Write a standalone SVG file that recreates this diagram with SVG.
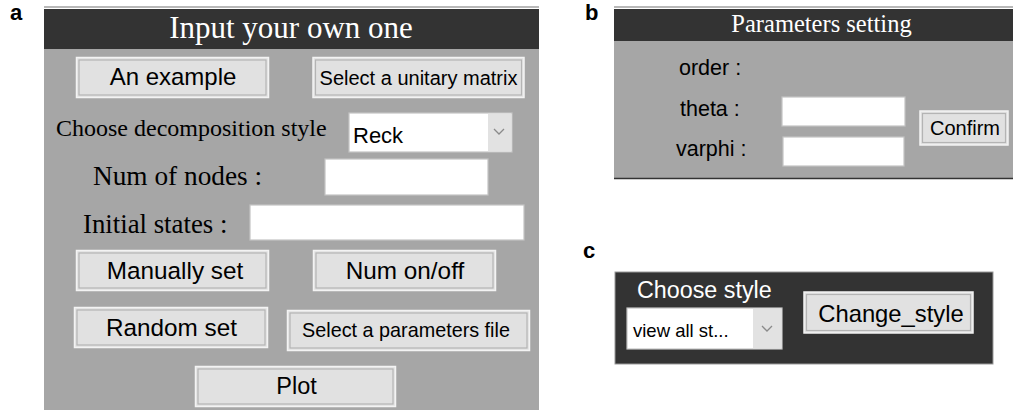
<svg xmlns="http://www.w3.org/2000/svg" width="1014" height="410" viewBox="0 0 1014 410">
  <style>
    .lbl { font-family: "Liberation Sans", Arial, sans-serif; font-weight: bold; font-size: 22px; fill: #000; }
    .panel { fill: #a6a6a6; }
    .head { fill: #333333; }
    .topline { stroke: #b8b8b8; stroke-width: 2; }
    .title { font-family: "Liberation Serif", "Times New Roman", serif; fill: #ffffff; text-anchor: middle; }
    .serif { font-family: "Liberation Serif", "Times New Roman", serif; fill: #000; }
    .sans { font-family: "Liberation Sans", Arial, sans-serif; fill: #000; }
    .btn { fill: #e1e1e1; stroke: #f3f3f3; stroke-width: 1.5; }
    .btnin { fill: none; stroke: #b4b4b4; stroke-width: 1.2; }
    .btntxt { font-family: "Liberation Sans", Arial, sans-serif; fill: #000; text-anchor: middle; }
    .field { fill: #ffffff; stroke: #c4c4c4; stroke-width: 1.2; }
    .drop { fill: #e2e2e2; }
    .chev { fill: none; stroke: #8a8a8a; stroke-width: 1.3; }
  </style>

  <!-- panel labels -->
  <text class="lbl" x="10" y="20">a</text>
  <text class="lbl" x="585" y="20">b</text>
  <text class="lbl" x="583" y="258">c</text>

  <!-- panel a: input form -->
  <g id="panel-a">
    <rect class="panel" x="44" y="9" width="495" height="401"/>
    <line class="topline" x1="44" y1="7" x2="539" y2="7"/>
    <rect class="head" x="44" y="9" width="495" height="40"/>
    <text class="title" x="291" y="38" font-size="31">Input your own one</text>
  </g>

  <g id="btn-example">
    <rect class="btn" x="76.5" y="57.5" width="192" height="40"/>
    <rect class="btnin" x="79" y="60" width="187" height="35"/>
    <text class="btntxt" x="173" y="85" font-size="24">An example</text>
  </g>

  <g id="btn-unitary">
    <rect class="btn" x="313" y="57.5" width="211" height="40"/>
    <rect class="btnin" x="315.5" y="60" width="206" height="35"/>
    <text class="btntxt" x="418.5" y="84.5" font-size="20">Select a unitary matrix</text>
  </g>

  <g id="decomp-style">
    <text class="serif" x="56" y="136" font-size="24">Choose decomposition style</text>
    <rect class="field" x="349" y="113" width="163" height="39"/>
    <rect class="drop" x="488" y="113.6" width="23.4" height="37.8"/>
    <text class="sans" x="353" y="143" font-size="22">Reck</text>
    <polyline class="chev" points="494,129 499,134 504,129"/>
  </g>

  <g id="num-nodes">
    <text class="serif" x="93" y="185" font-size="27.3">Num of nodes :</text>
    <rect class="field" x="325" y="159" width="163" height="36"/>
  </g>

  <g id="initial-states">
    <text class="serif" x="83" y="233" font-size="26.8">Initial states :</text>
    <rect class="field" x="250" y="205" width="274" height="35"/>
  </g>

  <g id="btn-manual">
    <rect class="btn" x="76.5" y="250.5" width="192" height="40"/>
    <rect class="btnin" x="79" y="253" width="187" height="35"/>
    <text class="btntxt" x="175" y="278.5" font-size="24.3">Manually set</text>
  </g>

  <g id="btn-numonoff">
    <rect class="btn" x="313.5" y="250.5" width="182" height="40"/>
    <rect class="btnin" x="316" y="253" width="177" height="35"/>
    <text class="btntxt" x="405" y="278.5" font-size="24.3">Num on/off</text>
  </g>

  <g id="btn-random">
    <rect class="btn" x="74.5" y="307.5" width="193" height="40"/>
    <rect class="btnin" x="77" y="310" width="188" height="35"/>
    <text class="btntxt" x="171.5" y="335.5" font-size="24.3">Random set</text>
  </g>

  <g id="btn-paramfile">
    <rect class="btn" x="287.5" y="310.5" width="242" height="40"/>
    <rect class="btnin" x="290" y="313" width="237" height="35"/>
    <text class="btntxt" x="406" y="336.5" font-size="19.8">Select a parameters file</text>
  </g>

  <g id="btn-plot">
    <rect class="btn" x="195.5" y="366.5" width="200" height="40"/>
    <rect class="btnin" x="198" y="369" width="195" height="35"/>
    <text class="btntxt" x="296.5" y="394" font-size="23.5">Plot</text>
  </g>

  <!-- panel b: parameters setting -->
  <g id="panel-b">
    <rect class="panel" x="614" y="9" width="399" height="169"/>
    <line class="topline" x1="614" y1="7" x2="1013" y2="7"/>
    <rect class="head" x="614" y="9" width="399" height="32"/>
    <line x1="614" y1="178.5" x2="1013" y2="178.5" stroke="#333" stroke-width="1.5"/>
    <text class="title" x="821.5" y="32" font-size="24.5">Parameters setting</text>
  </g>

  <g id="param-order">
    <text class="sans" x="679" y="75" font-size="21.5">order :</text>
  </g>

  <g id="param-theta">
    <text class="sans" x="680" y="116" font-size="21.5">theta :</text>
    <rect class="field" x="782" y="97" width="123" height="29"/>
  </g>

  <g id="param-varphi">
    <text class="sans" x="676" y="156" font-size="21.5">varphi :</text>
    <rect class="field" x="783" y="137" width="121" height="29"/>
  </g>

  <g id="btn-confirm">
    <rect class="btn" x="920" y="111" width="88" height="34"/>
    <rect class="btnin" x="922.5" y="113.5" width="83" height="29"/>
    <text class="btntxt" x="965" y="134.5" font-size="20">Confirm</text>
  </g>

  <!-- panel c: style chooser -->
  <g id="panel-c">
    <rect x="615" y="272" width="378" height="92" fill="#333333" stroke="#9a9a9a" stroke-width="1"/>
    <text class="sans" x="637" y="298" font-size="23.3" style="fill:#ffffff">Choose style</text>
  </g>

  <g id="style-select">
    <rect class="field" x="627" y="308" width="155" height="41"/>
    <rect class="drop" x="753" y="308.6" width="28.4" height="39.8"/>
    <text class="sans" x="633" y="337" font-size="18.5">view all st...</text>
    <polyline class="chev" points="762,326 767,331 772,326"/>
  </g>

  <g id="btn-change-style">
    <rect class="btn" x="804" y="292" width="169" height="41"/>
    <rect class="btnin" x="806.5" y="294.5" width="164" height="36"/>
    <text class="btntxt" x="891" y="322" font-size="23.8">Change_style</text>
  </g>
</svg>
